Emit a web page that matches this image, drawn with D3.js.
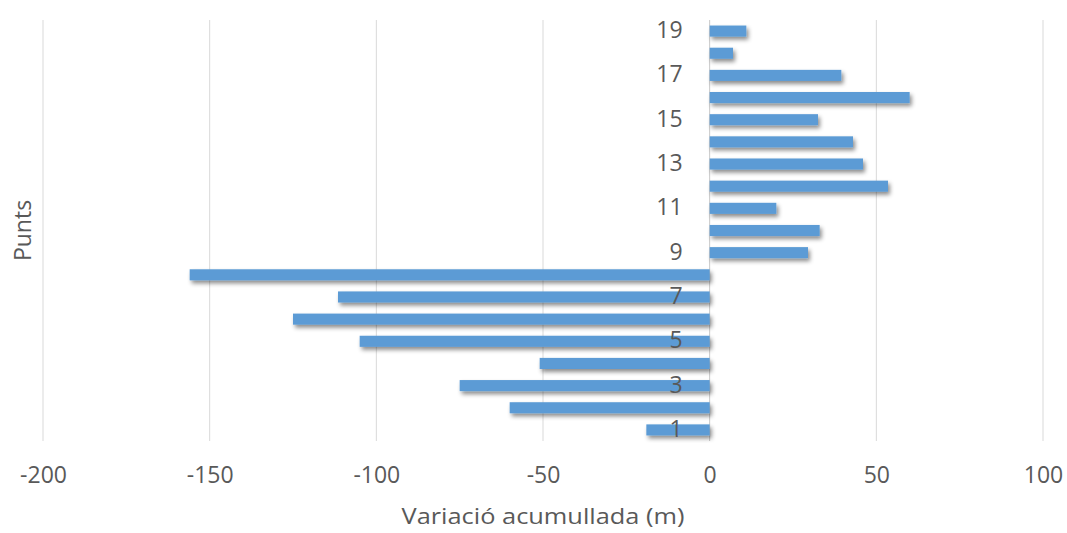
<!DOCTYPE html>
<html>
<head>
<meta charset="utf-8">
<script src="https://cdn.jsdelivr.net/npm/d3@7"></script>
<style>
    body { margin: 0; background: #fff; }
    text { font-family: "Open Sans", sans-serif; fill: #595959; }
</style>
</head>
<body>
<div id="chart-container"></div>
<script>
// data
const points = [1, 2, 3, 4, 5, 6, 7, 8, 9, 10, 11, 12, 13, 14, 15, 16, 17, 18, 19];
const variation = [-19, -60, -75, -51, -105, -125, -111.5, -156, 29.5, 33, 20, 53.5, 46, 43, 32.5, 60, 39.5, 7, 11];
const xTicks = [-200, -150, -100, -50, 0, 50, 100];
const yLabels = [1, 3, 5, 7, 9, 11, 13, 15, 17, 19];

function barChart() {
    const data = points.map((p, i) => ({ point: p, value: variation[i] }));

    const width = 1067;
    const height = 533;
    const plot = { left: 43, right: 1043, top: 20, bottom: 441 };

    const svg = d3.select("#chart-container")
        .append("svg")
        .attr("width", width)
        .attr("height", height);

    // drop shadow like the original
    const defs = svg.append("defs");
    const filter = defs.append("filter")
        .attr("id", "shadow")
        .attr("x", "-10%").attr("y", "-60%")
        .attr("width", "120%").attr("height", "240%");
    filter.append("feDropShadow")
        .attr("dx", 2)
        .attr("dy", 3)
        .attr("stdDeviation", 2)
        .attr("flood-color", "#000")
        .attr("flood-opacity", 0.45);

    // Scales
    const xScale = d3.scaleLinear()
        .domain([-200, 100])
        .range([plot.left, plot.right]);

    const yScale = d3.scaleBand()
        .domain(points)
        .range([plot.bottom, plot.top])
        .paddingInner(0.5)
        .paddingOuter(0.25);

    // gridlines
    svg.append("g")
        .selectAll("line")
        .data(xTicks)
        .join("line")
        .attr("x1", d => xScale(d))
        .attr("x2", d => xScale(d))
        .attr("y1", plot.top)
        .attr("y2", plot.bottom)
        .style("stroke", d => d === 0 ? "#c8c8c8" : "#d9d9d9")
        .style("stroke-width", 1);

    // bars
    svg.append("g")
        .attr("filter", "url(#shadow)")
        .selectAll("rect")
        .data(data)
        .join("rect")
        .attr("x", d => xScale(Math.min(0, d.value)))
        .attr("width", d => Math.abs(xScale(d.value) - xScale(0)))
        .attr("y", d => yScale(d.point))
        .attr("height", yScale.bandwidth())
        .style("fill", "#5b9bd5");

    // x axis labels (plain hyphen, as in the original)
    const xAxis = svg.append("g")
        .attr("transform", `translate(0,${plot.bottom})`)
        .call(d3.axisBottom(xScale).tickValues(xTicks).tickSize(0).tickPadding(26).tickFormat(d => String(d)));
    xAxis.select(".domain").remove();
    xAxis.selectAll("text")
        .style("font-size", "23px")
        .style("font-family", "Open Sans, sans-serif")
        .attr("fill", "#595959");

    // y axis labels, sitting next to the zero line
    const yAxis = svg.append("g")
        .attr("transform", `translate(${xScale(0)},0)`)
        .call(d3.axisLeft(yScale).tickValues(yLabels).tickSize(0).tickPadding(27));
    yAxis.select(".domain").remove();
    yAxis.selectAll("text")
        .style("font-size", "23px")
        .style("font-family", "Open Sans, sans-serif")
        .attr("fill", "#595959")
        .attr("dy", "0.3em");

    // axis titles
    svg.append("text")
        .attr("x", (plot.left + plot.right) / 2)
        .attr("y", 524)
        .style("text-anchor", "middle")
        .style("font-size", "22px")
        .attr("textLength", 283)
        .attr("lengthAdjust", "spacingAndGlyphs")
        .text("Variació acumullada (m)");

    svg.append("text")
        .attr("transform", `translate(31,${(plot.top + plot.bottom) / 2}) rotate(-90)`)
        .style("text-anchor", "middle")
        .style("font-size", "23px")
        .text("Punts");
}

barChart();
</script>
</body>
</html>
